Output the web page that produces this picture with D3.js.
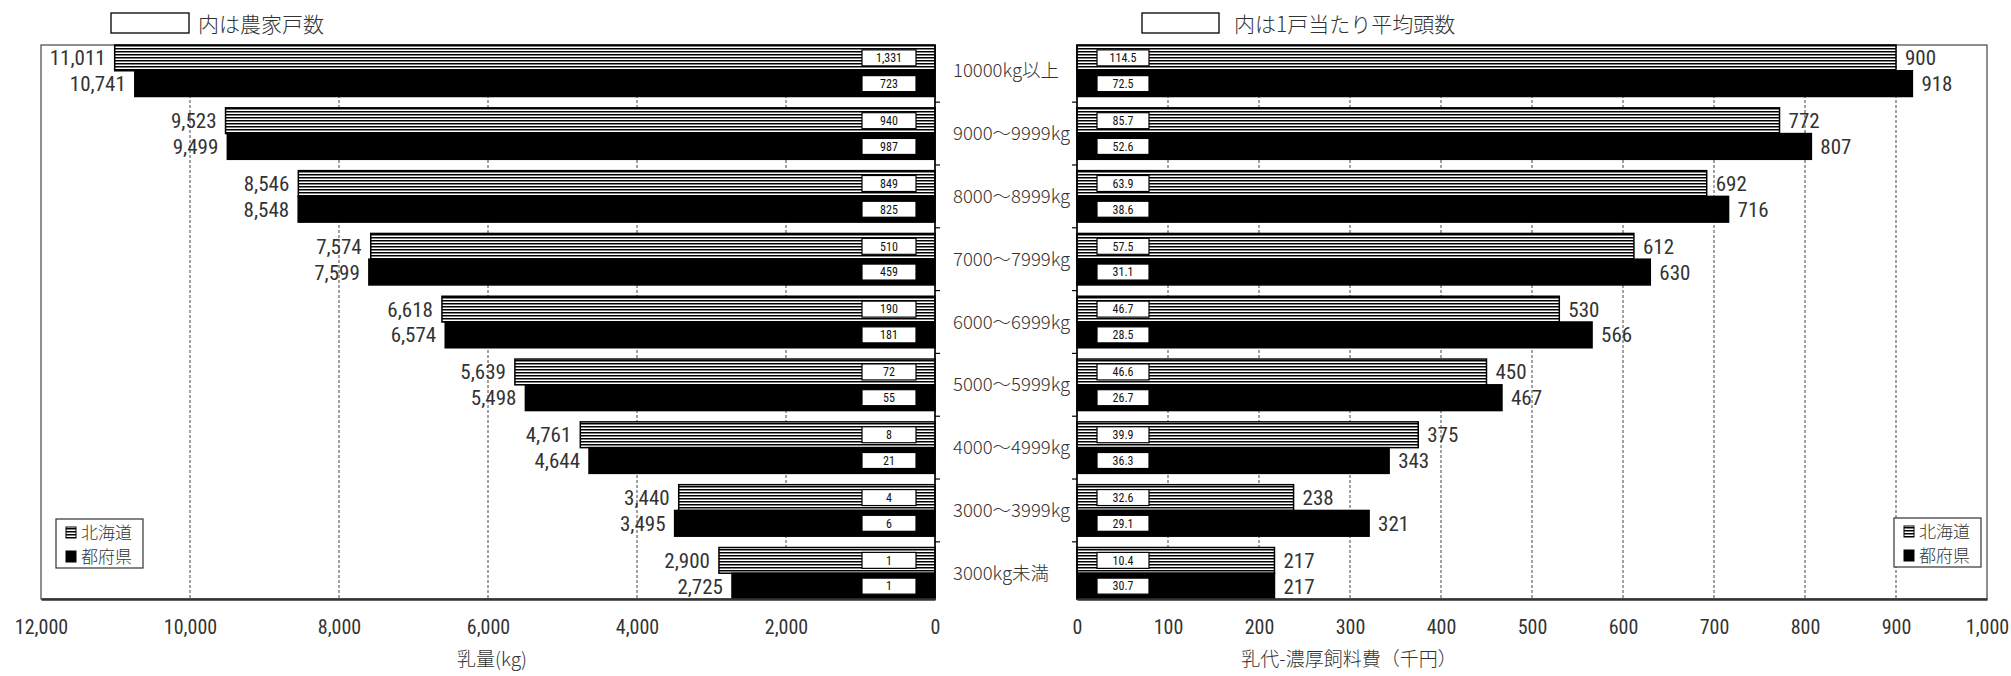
<!DOCTYPE html>
<html><head><meta charset="utf-8">
<script src="https://cdn.jsdelivr.net/npm/d3@7"></script>
<style>
html,body{margin:0;padding:0;background:#fff;}
svg{display:block;}
</style></head>
<body>
<svg id="c" width="2011" height="676"></svg>
<script>
const categories = ["10000kg以上","9000～9999kg","8000～8999kg","7000～7999kg","6000～6999kg","5000～5999kg","4000～4999kg","3000～3999kg","3000kg未満"];
const series = ["北海道","都府県"];
const milkHokkaido = [11011,9523,8546,7574,6618,5639,4761,3440,2900];
const milkTodofuken = [10741,9499,8548,7599,6574,5498,4644,3495,2725];
const farmsHokkaido = ["1,331","940","849","510","190","72","8","4","1"];
const farmsTodofuken = ["723","987","825","459","181","55","21","6","1"];
const costHokkaido = [900,772,692,612,530,450,375,238,217];
const costTodofuken = [918,807,716,630,566,467,343,321,217];
const headsHokkaido = ["114.5","85.7","63.9","57.5","46.7","46.6","39.9","32.6","10.4"];
const headsTodofuken = ["72.5","52.6","38.6","31.1","28.5","26.7","36.3","29.1","30.7"];
const leftTicks = [0,2000,4000,6000,8000,10000,12000];
const rightTicks = [0,100,200,300,400,500,600,700,800,900,1000];
const leftTitle = "乳量(kg)";
const rightTitle = "乳代-濃厚飼料費（千円）";
const leftNote = "内は農家戸数";
const rightNote = "内は1戸当たり平均頭数";

const svg = d3.select("#c");
const JP = "'Noto Sans CJK JP','Noto Sans',sans-serif";
const NUM = "'Liberation Sans Narrow','Roboto Condensed','Liberation Sans',sans-serif";
const TXT = "#333";

const defs = svg.append("defs");
const pat = defs.append("pattern").attr("id","stripe").attr("patternUnits","userSpaceOnUse")
  .attr("width",8).attr("height",3);
pat.append("rect").attr("width",8).attr("height",3).attr("fill","#fff");
pat.append("rect").attr("width",8).attr("height",1.5).attr("fill","#000");

const plotTop = 45, plotBottom = 599;
const y = d3.scaleBand().domain(categories).range([plotTop,plotBottom]).paddingInner(0.18).paddingOuter(0);
const ys = d3.scaleBand().domain(series).range([0,y.bandwidth()]);
const fills = {"北海道":"url(#stripe)","都府県":"#000"};

function panel(opts){
  const {x, x0, x1, ticks, vals, boxes, dir, boxX, boxW, title, titleX} = opts;
  const g = svg.append("g");
  g.append("rect").attr("x",Math.min(x0,x1)).attr("y",plotTop).attr("width",Math.abs(x1-x0)).attr("height",plotBottom-plotTop)
    .attr("fill","none").attr("stroke","#444").attr("stroke-width",1.2);
  g.selectAll("line.grid").data(ticks.slice(1,-1)).join("line")
    .attr("x1",d=>x(d)).attr("x2",d=>x(d)).attr("y1",plotTop).attr("y2",plotBottom)
    .attr("stroke","#444").attr("stroke-width",1).attr("stroke-dasharray","3,2");
  categories.forEach((c,i)=>{
    series.forEach((s,k)=>{
      const v = vals[k][i];
      const yy = y(c)+ys(s);
      const xa = x(0), xb = x(v);
      g.append("rect").attr("x",Math.min(xa,xb)).attr("y",yy).attr("width",Math.abs(xb-xa)).attr("height",ys.bandwidth())
        .attr("fill",fills[s]).attr("stroke","#000").attr("stroke-width",1.5);
      g.append("rect").attr("x",boxX).attr("y",yy+ys.bandwidth()/2-8).attr("width",boxW).attr("height",16)
        .attr("fill","#fff").attr("stroke","#000").attr("stroke-width",1.2);
      g.append("text").attr("x",boxX+boxW/2).attr("y",yy+ys.bandwidth()/2).attr("dy","0.36em")
        .attr("text-anchor","middle").attr("font-family",NUM).attr("font-size",12).attr("fill","#111").text(boxes[k][i]);
      g.append("text").attr("x",xb + dir*9).attr("y",yy+ys.bandwidth()/2).attr("dy","0.36em")
        .attr("text-anchor",dir<0?"end":"start").attr("font-family",NUM).attr("font-size",21).attr("fill",TXT)
        .text(d3.format(",")(v));
    });
  });
  g.append("line").attr("x1",x(0)).attr("x2",x(0)).attr("y1",plotTop).attr("y2",plotBottom).attr("stroke","#000").attr("stroke-width",1.5);
  g.selectAll("line.ct").data(categories.slice(1)).join("line")
    .attr("x1",x(0)).attr("x2",x(0)-dir*5)
    .attr("y1",d=>y(d)-y.step()*y.paddingInner()/2).attr("y2",d=>y(d)-y.step()*y.paddingInner()/2)
    .attr("stroke","#000").attr("stroke-width",1.2);
  const ax = g.append("g").attr("transform",`translate(0,${plotBottom})`)
    .call(d3.axisBottom(x).tickValues(ticks).tickSize(0).tickFormat(d3.format(",")));
  ax.select(".domain").attr("stroke","#333").attr("stroke-width",2.5);
  ax.selectAll("text").attr("y",28).attr("dy","0.36em").attr("font-family",NUM).attr("font-size",20).attr("fill",TXT);
  g.append("text").attr("x",titleX).attr("y",659).attr("dy","0.36em").attr("text-anchor","middle")
    .attr("font-family",JP).attr("font-weight",300).attr("font-size",19).attr("fill",TXT).text(title);
}

const xL = d3.scaleLinear().domain([0,12000]).range([935,41]);
const xR = d3.scaleLinear().domain([0,1000]).range([1077,1987]);

panel({x:xL, x0:41, x1:935, ticks:leftTicks, vals:[milkHokkaido,milkTodofuken], boxes:[farmsHokkaido,farmsTodofuken],
  dir:-1, boxX:862, boxW:54, title:leftTitle, titleX:492});
panel({x:xR, x0:1077, x1:1987, ticks:rightTicks, vals:[costHokkaido,costTodofuken], boxes:[headsHokkaido,headsTodofuken],
  dir:1, boxX:1097, boxW:52, title:rightTitle, titleX:1349});

svg.append("g").selectAll("text").data(categories).join("text")
  .attr("x",953).attr("y",d=>y(d)+y.bandwidth()/2).attr("dy","0.36em")
  .attr("font-family",JP).attr("font-weight",300).attr("font-size",18.5).attr("fill",TXT).text(d=>d);

function note(rx, rw, tx, t){
  svg.append("rect").attr("x",rx).attr("y",13).attr("width",rw).attr("height",20).attr("fill","#fff").attr("stroke","#000").attr("stroke-width",1.3);
  svg.append("text").attr("x",tx).attr("y",24).attr("dy","0.36em").attr("font-family",JP).attr("font-weight",300).attr("font-size",21).attr("fill",TXT).text(t);
}
note(111,78,198,leftNote);
note(1142,77,1234,rightNote);

function legend(lx, ly){
  const g = svg.append("g").attr("transform",`translate(${lx},${ly})`);
  g.append("rect").attr("width",87).attr("height",49).attr("fill","#fff").attr("stroke","#333").attr("stroke-width",1.2);
  series.forEach((s,i)=>{
    g.append("rect").attr("x",10).attr("y",8+i*24).attr("width",10).attr("height",11)
      .attr("fill",fills[s]).attr("stroke","#000").attr("stroke-width",1);
    g.append("text").attr("x",25).attr("y",14+i*24).attr("dy","0.36em").attr("font-family",JP).attr("font-weight",300).attr("font-size",17).attr("fill",TXT).text(s);
  });
}
legend(56,519);
legend(1894,518);
</script>
</body></html>
